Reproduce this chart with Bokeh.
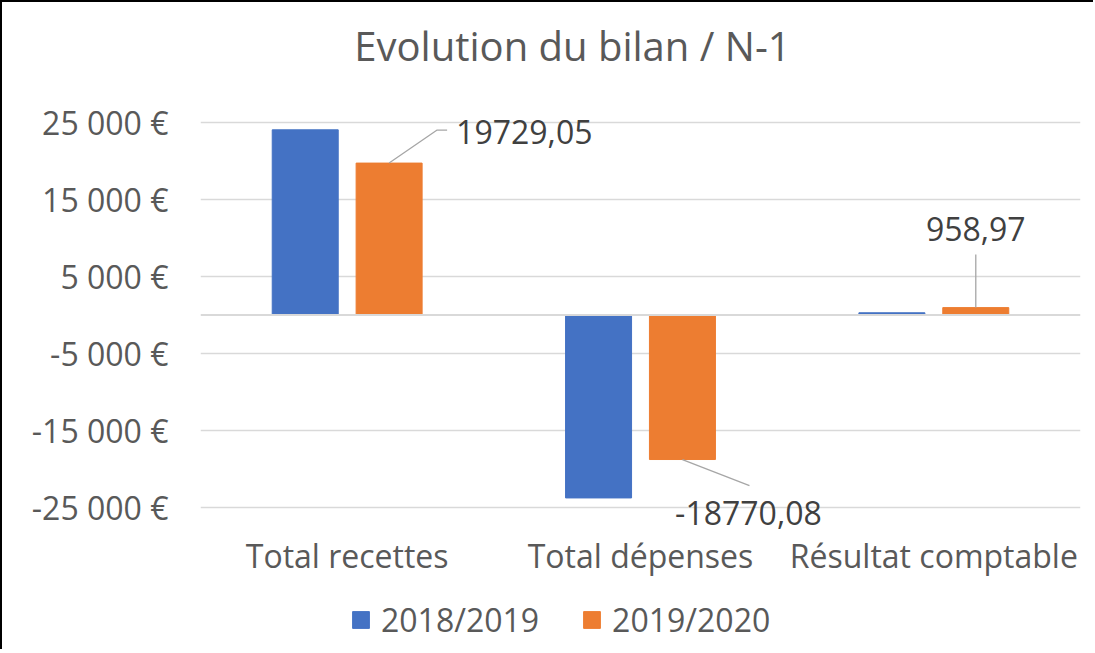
from bokeh.plotting import figure
from bokeh.models import FixedTicker, Span, Legend, LegendItem, ColumnDataSource
from bokeh.embed import file_html
from bokeh.resources import INLINE
from bokeh.core.properties import value

# ---- data ----
categories = ["Total recettes", "Total dépenses", "Résultat comptable"]
series_names = ["2018/2019", "2019/2020"]
values_2018_2019 = [24050, -23760, 290]
values_2019_2020 = [19729.05, -18770.08, 958.97]
y_ticks = [-25000, -15000, -5000, 5000, 15000, 25000]
y_tick_labels = ["-25 000 €", "-15 000 €", "-5 000 €", "5 000 €", "15 000 €", "25 000 €"]
label_texts = ["19729,05", "-18770,08", "958,97"]
title_text = "Evolution du bilan / N-1"

# ---- styling ----
FONT = "Open Sans"
GREY = "#595959"
DARK = "#404040"
BLUE = "#4472C4"
ORANGE = "#ED7D31"
GRID = "#D9D9D9"

BORDER = 2
W, H = 1093, 649
ML, MR = 198, 15
FW = W - ML - MR
# page-pixel layout of the value axis: 25000 at y=122, -25000 at y=507
TOP_PX, BOT_PX = 122, 507
px_y = 50000 / (BOT_PX - TOP_PX)
px_x = len(categories) / FW
LEFT_PX = BORDER + ML


def gy(page_y):
    return 25000 - (page_y - TOP_PX) * px_y


def gx(page_x):
    return (page_x - LEFT_PX) * px_x


Y1 = gy(BORDER)
Y0 = gy(BORDER + H)

p = figure(width=W, height=H, x_range=(0, len(categories)), y_range=(Y0, Y1),
           output_backend="svg", toolbar_location=None,
           min_border_left=ML, min_border_right=MR,
           min_border_top=0, min_border_bottom=0)
p.styles = {"border-left": "2px solid #000", "border-top": "2px solid #000"}
p.outline_line_color = None
p.background_fill_color = "white"
p.border_fill_color = "white"
p.xaxis.visible = False
p.xgrid.visible = False

# y axis
p.yaxis.ticker = FixedTicker(ticks=y_ticks)
p.yaxis.major_label_overrides = {t: lab for t, lab in zip(y_ticks, y_tick_labels)}
p.yaxis.axis_line_color = None
p.yaxis.major_tick_line_color = None
p.yaxis.minor_tick_line_color = None
p.yaxis.major_tick_out = 0
p.yaxis.major_tick_in = 0
p.yaxis.major_label_text_font = FONT
p.yaxis.major_label_text_color = GREY
p.yaxis.major_label_text_font_size = "32px"
p.yaxis.major_label_standoff = 32

p.ygrid.ticker = FixedTicker(ticks=y_ticks)
p.ygrid.grid_line_color = GRID
p.ygrid.grid_line_width = 1.5
p.add_layout(Span(location=0, dimension="width", line_color=GRID, line_width=2))

# title
p.text(x=[gx(572)], y=[gy(45)], text=[title_text], text_font=value(FONT),
       text_font_size="40px", text_color=GREY, text_align="center", text_baseline="middle")

# category labels
centers = [i + 0.5 for i in range(len(categories))]
p.text(x=centers, y=[gy(555)] * len(categories), text=categories, text_font=value(FONT),
       text_font_size="32px", text_color=GREY, text_align="center", text_baseline="middle")

# bars
off = 0.143
bw = 0.225
src1 = ColumnDataSource(dict(x=[c - off for c in centers], top=values_2018_2019))
src2 = ColumnDataSource(dict(x=[c + off for c in centers], top=values_2019_2020))
r1 = p.vbar(x="x", top="top", bottom=0, width=bw, source=src1, fill_color=BLUE, line_color=BLUE)
r2 = p.vbar(x="x", top="top", bottom=0, width=bw, source=src2, fill_color=ORANGE, line_color=ORANGE)

# data labels with leader lines (offsets in pixels, converted to data units)
specs = [
    ((0, 0), (48, 33), (58, 33), (67, 31), "left"),
    ((0, 0), (67, -26), (67, -26), (66, -53), "center"),
    ((0, 0), (0, 53), (0, 53), (0, 79), "center"),
]
for i, (v, txt, sp) in enumerate(zip(values_2019_2020, label_texts, specs)):
    bx = centers[i] + off
    (s0, s1, s2, tpos, al) = sp
    xs = [bx + s0[0] * px_x, bx + s1[0] * px_x, bx + s2[0] * px_x]
    ys = [v + s0[1] * px_y, v + s1[1] * px_y, v + s2[1] * px_y]
    p.line(xs, ys, line_color="#A6A6A6", line_width=1.3)
    p.text(x=[bx + tpos[0] * px_x], y=[v + tpos[1] * px_y], text=[txt],
           text_font=value(FONT), text_font_size="32px", text_color=DARK,
           text_align=al, text_baseline="middle")

# legend (inside the frame, at the bottom)
legend = Legend(items=[LegendItem(label=series_names[0], renderers=[r1]),
                       LegendItem(label=series_names[1], renderers=[r2])],
                orientation="horizontal", location=(150, 10))
legend.glyph_width = 21
legend.glyph_height = 21
legend.label_text_font = FONT
legend.label_text_font_size = "32px"
legend.label_text_color = GREY
legend.label_standoff = 10
legend.spacing = 42
legend.padding = 0
legend.margin = 0
legend.border_line_color = None
legend.background_fill_alpha = 0
p.add_layout(legend, "center")

open("out.html", "w").write(file_html(p, INLINE))
